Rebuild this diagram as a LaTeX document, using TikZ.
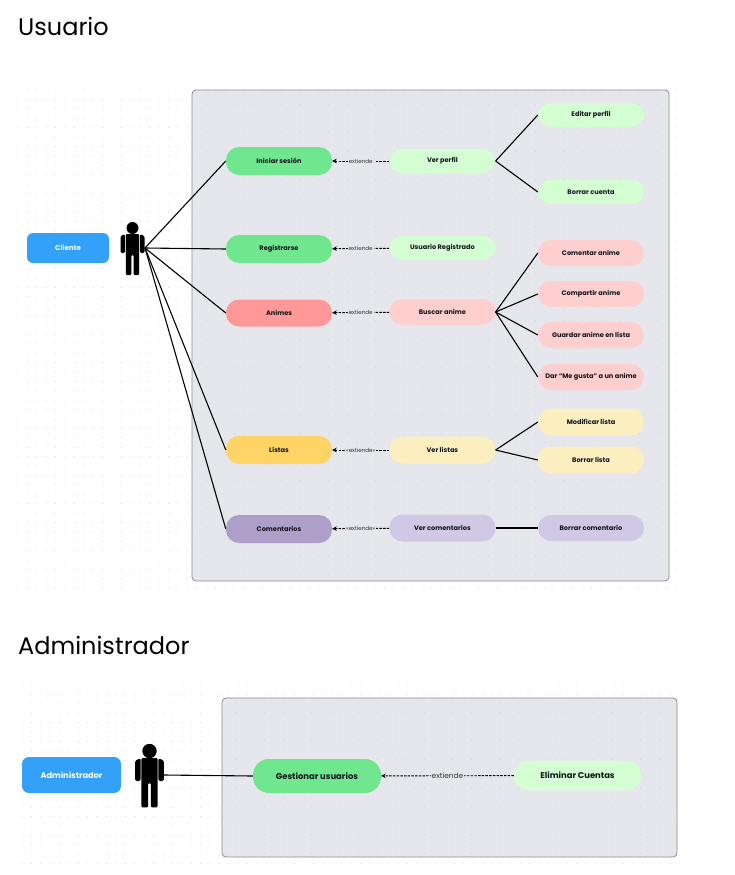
\documentclass[tikz,border=0pt]{standalone}
\usepackage{fontspec}
\setmainfont{Poppins}
\usetikzlibrary{arrows.meta,positioning}
\definecolor{azul}{HTML}{33A1F7}
\definecolor{verde}{HTML}{70E78F}
\definecolor{verdeclaro}{HTML}{D3FFD2}
\definecolor{rojo}{HTML}{FF9898}
\definecolor{rosa}{HTML}{FFCFCF}
\definecolor{amarillo}{HTML}{FFD466}
\definecolor{crema}{HTML}{FCEFBF}
\definecolor{morado}{HTML}{AE9FC8}
\definecolor{lila}{HTML}{D0C8E4}
\definecolor{panelgris}{HTML}{E6E7EC}
\definecolor{tinta}{HTML}{14141E}
\tikzset{
  titulo/.style = {anchor=west, font=\fontsize{24}{24}\selectfont, text=black, inner sep=0pt},
  panel/.style = {draw=black!45, fill=panelgris, thick, rounded corners=4pt},
  puntos/.style = {draw=black!18, line width=1pt, line cap=round, dash pattern=on 0pt off 9.4pt},
  puntospanel/.style = {puntos, draw=black!9!panelgris},
  rol/.style = {fill=azul, rounded corners=6pt, text=white, font=\fontsize{7}{7}\selectfont\bfseries, align=center, inner sep=0pt},
  caso/.style = {rounded corners=13pt, minimum width=106pt, minimum height=26pt, inner sep=0pt, text=tinta, font=\fontsize{6.6}{7}\selectfont\bfseries, align=center},
  asoc/.style = {line width=1.1pt, black},
  ext/.style = {line width=0.9pt, dash pattern=on 2.5pt off 1.2pt, -{Stealth[length=4.5pt,width=4.5pt]}, black},
  etiqueta/.style = {midway, fill=panelgris, inner sep=1pt, text=black!80, font=\fontsize{5.6}{6}\selectfont},
  actor/.pic = {
    \fill[black] (0,-20) circle (6);
    \fill[black, rounded corners=1pt] (-6.7,-14) -- (6.7,-14) -- (6.7,27) -- (1.2,27) -- (1.2,7) -- (-1.2,7) -- (-1.2,27) -- (-6.7,27) -- cycle;
    \fill[black, rounded corners=1.5pt] (-7.4,-14) -- (-12,-12) -- (-12,5) -- (-7.4,5) -- cycle;
    \fill[black, rounded corners=1.5pt] (7.4,-14) -- (12,-12) -- (12,5) -- (7.4,5) -- cycle;
  }
}
\begin{document}
\begin{tikzpicture}[x=1pt, y=-1pt, node distance=57pt]
  \useasboundingbox (0,0) rectangle (735,875);
  \node[titulo] (tusuario) at (18,26) {Usuario};
  \node[titulo] (tadmin) at (18,645) {Administrador};
  % fondo punteado
  \foreach \j in {0,...,53} {
    \draw[puntos] (18,90+9.4*\j) -- (684,90+9.4*\j);
  }
  \foreach \j in {0,...,19} {
    \draw[puntos] (22,685+9.4*\j) -- (684,685+9.4*\j);
  }
  \draw[panel] (192,90) rectangle (669,581);
  \draw[panel] (222,698) rectangle (677,857);
  \foreach \j in {0,...,51} {
    \draw[puntospanel] (197,95+9.4*\j) -- (665,95+9.4*\j);
  }
  \foreach \j in {0,...,16} {
    \draw[puntospanel] (227,703+9.4*\j) -- (673,703+9.4*\j);
  }

  % usuario
  \node[rol, minimum width=82pt, minimum height=30pt] (cliente) at (68,248) {Cliente};
  \pic at (132.5,248) {actor};
  \coordinate (manocliente) at (145,248);

  \node[caso, fill=verde, minimum height=28pt] (iniciar) at (279,161) {Iniciar sesión};
  \node[caso, fill=verde, minimum height=28pt] (registrarse) at (279,249) {Registrarse};
  \node[caso, fill=rojo, minimum height=27pt] (animes) at (279,313) {Animes};
  \node[caso, fill=amarillo, minimum height=28pt] (listas) at (279,450) {Listas};
  \node[caso, fill=morado, minimum height=28pt] (comentarios) at (279,529) {Comentarios};

  \node[caso, fill=verdeclaro, minimum height=24pt, right=of iniciar] (verperfil) {Ver perfil};
  \node[caso, fill=verdeclaro, minimum height=24pt, right=of registrarse, yshift=1pt] (registrado) {Usuario Registrado};
  \node[caso, fill=rosa, right=of animes, yshift=1pt] (buscar) {Buscar anime};
  \node[caso, fill=crema, minimum height=27pt, right=of listas] (verlistas) {Ver listas};
  \node[caso, fill=lila, minimum height=27pt, right=of comentarios, yshift=1pt] (vercoment) {Ver comentarios};

  \node[caso, fill=verdeclaro, minimum height=24pt] (editar) at (591,115) {Editar perfil};
  \node[caso, fill=verdeclaro, minimum height=24pt] (borrarcuenta) at (591,192) {Borrar cuenta};
  \node[caso, fill=rosa] (comentar) at (591,253) {Comentar anime};
  \node[caso, fill=rosa] (compartir) at (591,294) {Compartir anime};
  \node[caso, fill=rosa] (guardar) at (591,335) {Guardar anime en lista};
  \node[caso, fill=rosa] (megusta) at (591,377) {Dar “Me gusta” a un anime};
  \node[caso, fill=crema, minimum height=27pt] (modificar) at (591,422) {Modificar lista};
  \node[caso, fill=crema, minimum height=27pt] (borrarlista) at (591,460) {Borrar lista};
  \node[caso, fill=lila] (borrarcoment) at (591,528) {Borrar comentario};

  \draw[asoc] (manocliente) -- (iniciar.west);
  \draw[asoc] (manocliente) -- (registrarse.west);
  \draw[asoc] (manocliente) -- (animes.west);
  \draw[asoc] (manocliente) -- (listas.west);
  \draw[asoc] (manocliente) -- (comentarios.west);

  \draw[ext] (verperfil) -- (iniciar) node[etiqueta] {extiende};
  \draw[ext] (registrado) -- (registrarse) node[etiqueta] {extiende};
  \draw[ext] (buscar) -- (animes) node[etiqueta] {extiende};
  \draw[ext] (verlistas) -- (listas) node[etiqueta] {<<extiende>>};
  \draw[ext] (vercoment) -- (comentarios) node[etiqueta] {<<extiende>>};

  \draw[asoc] (verperfil.east) -- (editar.west);
  \draw[asoc] (verperfil.east) -- (borrarcuenta.west);
  \draw[asoc] (buscar.east) -- (comentar.west);
  \draw[asoc] (buscar.east) -- (compartir.west);
  \draw[asoc] (buscar.east) -- (guardar.west);
  \draw[asoc] (buscar.east) -- (megusta.west);
  \draw[asoc] (verlistas.east) -- (modificar.west);
  \draw[asoc] (verlistas.east) -- (borrarlista.west);
  \draw[asoc] (vercoment) -- (borrarcoment);

  % administrador
  \node[rol, minimum width=99pt, minimum height=36pt, rounded corners=7pt, font=\fontsize{8.2}{9}\selectfont\bfseries] (admin) at (71.5,775) {Administrador};
  \pic[xscale=1.2, yscale=1.2] at (149.5,775) {actor};
  \coordinate (manoadmin) at (164,775);
  \node[caso, fill=verde, minimum width=128pt, minimum height=34pt, rounded corners=16pt, font=\fontsize{8.4}{9}\selectfont\bfseries] (gestionar) at (317,776) {Gestionar usuarios};
  \node[caso, fill=verdeclaro, minimum width=127pt, minimum height=29pt, rounded corners=14pt, font=\fontsize{8.4}{9}\selectfont\bfseries] (eliminar) at (577.5,775.5) {Eliminar Cuentas};
  \draw[asoc] (manoadmin) -- (gestionar.west);
  \draw[ext] (eliminar) -- (gestionar) node[etiqueta, font=\fontsize{7.4}{8}\selectfont] {extiende};
\end{tikzpicture}
\end{document}
